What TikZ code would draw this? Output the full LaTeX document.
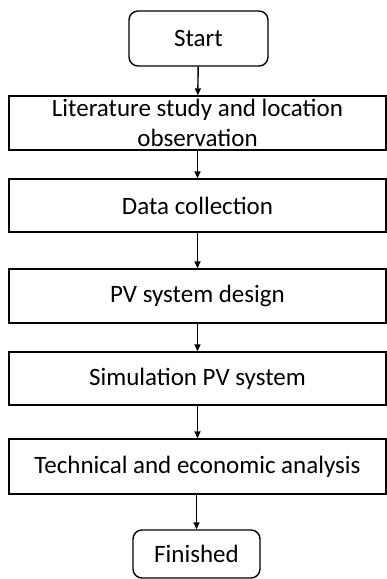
\documentclass[tikz,border=0pt]{standalone}
\usepackage{fontspec}
\setmainfont{Carlito}
\usetikzlibrary{arrows.meta}
\tikzset{
  stepbox/.style={draw,line width=1.4pt,minimum width=377pt,minimum height=54pt,inner sep=0pt,align=center,font=\fontsize{25}{30}\selectfont},
  endbox/.style={stepbox,rounded corners=9pt},
  flow/.style={line width=1.4pt,-{Triangle[length=7pt,width=6pt]}}
}
\begin{document}
\begin{tikzpicture}[x=1pt,y=-1pt]
\useasboundingbox (0,0) rectangle (387,579);
\node[endbox,minimum width=139pt,minimum height=55pt] (start) at (198.5,38.5) {Start};
\node[stepbox] (lit) at (197.5,123) {Literature study and location\\observation};
\node[stepbox,minimum height=53pt] (data) at (197.5,205.5) {Data collection};
\node[stepbox] (design) at (197.5,296) {PV system design};
\node[stepbox,minimum height=53pt] (sim) at (197.5,378.5) {Simulation PV system};
\node[stepbox,minimum height=55pt] (tech) at (197.5,466.5) {Technical and economic analysis};
\node[endbox,minimum width=127pt,minimum height=48pt] (finish) at (196.5,554) {Finished};
\draw[flow] (start) -- (lit);
\draw[flow] (lit) -- (data);
\draw[flow] (data) -- (design);
\draw[flow] (design) -- (sim);
\draw[flow] (sim) -- (tech);
\draw[flow] (tech.south -| finish) -- (finish);
\end{tikzpicture}
\end{document}
